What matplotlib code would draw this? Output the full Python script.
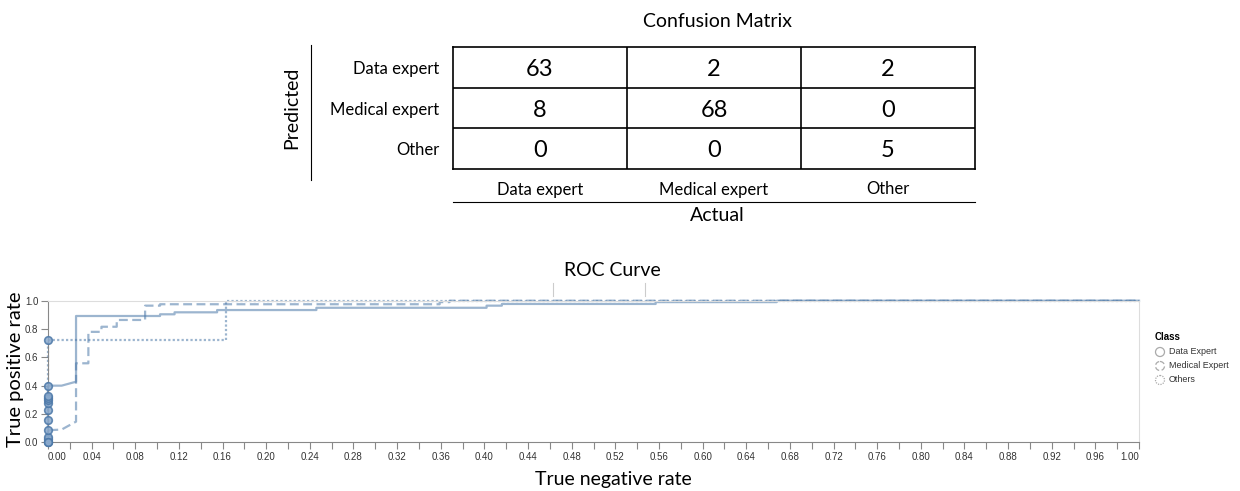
import matplotlib
matplotlib.use("Agg")
import matplotlib.pyplot as plt
from matplotlib.lines import Line2D
from matplotlib.patches import Circle

# confusion matrix (rows = predicted, columns = actual)
pred_labels = ["Data expert", "Medical expert", "Other"]
actual_labels = ["Data expert", "Medical expert", "Other"]
conf_matrix = [[63, 2, 2],
               [8, 68, 0],
               [0, 0, 5]]

# ROC points per class
data_fpr = [0, 0, 0, 0, 0, 0, 0, 0, 0, 0, 0.0125, 0.0257, 0.0257, 0.1027, 0.1027,
            0.116, 0.116, 0.155, 0.155, 0.246, 0.246, 0.402, 0.402, 0.416, 0.416,
            0.557, 0.557, 0.668, 0.668, 1.0]
data_tpr = [0, 0.02, 0.04, 0.16, 0.23, 0.275, 0.30, 0.31, 0.33, 0.40, 0.40, 0.428, 0.892,
            0.892, 0.904, 0.904, 0.918, 0.918, 0.934, 0.934, 0.95, 0.95, 0.965, 0.965,
            0.977, 0.977, 0.99, 0.99, 1.0, 1.0]

med_fpr = [0, 0, 0.0125, 0.0257, 0.0257, 0.037, 0.037, 0.049, 0.049, 0.063, 0.063,
           0.089, 0.089, 0.1027, 0.1027, 0.359, 0.359, 0.368, 0.368, 1.0]
med_tpr = [0, 0.085, 0.09, 0.146, 0.558, 0.558, 0.78, 0.78, 0.816, 0.816, 0.864, 0.864,
           0.965, 0.965, 0.975, 0.975, 0.99, 0.99, 1.0, 1.0]

oth_fpr = [0, 0, 0.163, 0.163, 1.0]
oth_tpr = [0, 0.72, 0.72, 1.0, 1.0]

class_names = ["Data Expert", "Medical Expert", "Others"]

W, H = 1240, 491
cm_font = "Lato"
blue = "#4c78a8"


def box(l, t, r, b):
    # pixel box -> figure fraction rect
    return [l / W, 1 - b / H, (r - l) / W, (b - t) / H]


fig = plt.figure(figsize=(W / 100, H / 100), dpi=100)

# ---- confusion matrix table ----
ax_cm = fig.add_axes(box(453, 47, 975, 169))
ax_cm.set_xlim(-0.5, 2.5)
ax_cm.set_ylim(2.5, -0.5)
for i, row in enumerate(conf_matrix):
    for j, v in enumerate(row):
        ax_cm.text(j, i + 0.05, str(v), ha="center", va="center", fontsize=17, family=cm_font)
for k in (0.5, 1.5):
    ax_cm.axhline(k, color="black", lw=1.2)
    ax_cm.axvline(k, color="black", lw=1.2)
for s in ax_cm.spines.values():
    s.set_linewidth(1.2)
ax_cm.set_xticks(range(3))
ax_cm.set_xticklabels(actual_labels, family=cm_font, fontsize=12)
ax_cm.set_yticks(range(3))
ax_cm.set_yticklabels(pred_labels, family=cm_font, fontsize=12)
ax_cm.tick_params(axis="x", length=0, pad=9)
ax_cm.tick_params(axis="y", length=0, pad=10)

ax_cm.plot([0, 1], [-0.27, -0.27], transform=ax_cm.transAxes, color="black", lw=0.8, clip_on=False)
ax_cm.text(0.506, -0.38, "Actual", transform=ax_cm.transAxes, ha="center", va="center",
           fontsize=14, family=cm_font)
ax_cm.plot([-0.272, -0.272], [-0.09, 1.016], transform=ax_cm.transAxes, color="black", lw=0.8, clip_on=False)
ax_cm.text(-0.308, 0.5, "Predicted", transform=ax_cm.transAxes, ha="center", va="center",
           rotation=90, fontsize=14, family=cm_font)
ax_cm.text(0.506, 1.205, "Confusion Matrix", transform=ax_cm.transAxes, ha="center", va="center",
           fontsize=14, family=cm_font)

# ---- ROC curve ----
ax = fig.add_axes(box(48, 300.7, 1139, 442.3))
styles = ["-", (0, (4, 2)), (0, (1, 1))]
series = [(data_fpr, data_tpr), (med_fpr, med_tpr), (oth_fpr, oth_tpr)]
for (fpr, tpr), ls in zip(series, styles):
    ax.plot(fpr, tpr, color=blue, alpha=0.55, lw=1.6, ls=ls, clip_on=False)
    zx = [x for x in fpr if x == 0]
    zy = [y for x, y in zip(fpr, tpr) if x == 0]
    ax.scatter(zx, zy, s=30, facecolor="#8aa9cc", edgecolor=blue, alpha=0.85, lw=1.2,
               clip_on=False, zorder=3)

ax.set_xlim(0, 1)
ax.set_ylim(0, 1)
xt = [i * 0.02 for i in range(51)]
ax.set_xticks(xt)
ax.set_xticklabels(["%.2f" % v if i % 2 == 0 else "" for i, v in enumerate(xt)])
xl = ax.get_xticklabels()
xl[0].set_ha("left")
xl[-1].set_ha("right")
ax.set_yticks([0, 0.2, 0.4, 0.6, 0.8, 1.0])
ax.set_yticklabels(["0.0", "0.2", "0.4", "0.6", "0.8", "1.0"])
ax.tick_params(labelsize=7, colors="#888888", labelcolor="#333333", length=5, width=0.8, pad=2)
for lab in ax.get_xticklabels() + ax.get_yticklabels():
    lab.set_family("Liberation Sans")
ax.spines["left"].set_color("#888888")
ax.spines["bottom"].set_color("#888888")
ax.spines["top"].set_color("#dddddd")
ax.spines["right"].set_color("#dddddd")

fig.text(612 / W, 1 - 270 / H, "ROC Curve", ha="center", va="center", fontsize=14, family=cm_font)
fig.text(613 / W, 1 - 480 / H, "True negative rate", ha="center", va="center", fontsize=14, family=cm_font)
fig.text(16 / W, 1 - 369 / H, "True positive rate", ha="center", va="center", rotation=90,
         fontsize=14.5, family=cm_font)
for px in (553, 645):
    fig.add_artist(Line2D([px / W, px / W], [1 - 283 / H, 1 - 296 / H], color="#cccccc", lw=0.8))

# ---- legend ----
ax_leg = fig.add_axes(box(1140, 325, 1240, 400))
ax_leg.set_xlim(1140, 1240)
ax_leg.set_ylim(400, 325)
ax_leg.axis("off")
ax_leg.text(1155, 337, "Class", fontsize=7, fontweight="bold", family="Liberation Sans", va="center")
for k, (name, ls) in enumerate(zip(class_names, styles)):
    cy = 352 + k * 14
    ax_leg.add_patch(Circle((1160, cy), 4.5, fill=False, ec="#aaaaaa", lw=0.9, ls=ls))
    ax_leg.text(1169, cy, name, fontsize=6.5, family="Liberation Sans", va="center", color="#333333")

fig.savefig("out.png", dpi=100)
